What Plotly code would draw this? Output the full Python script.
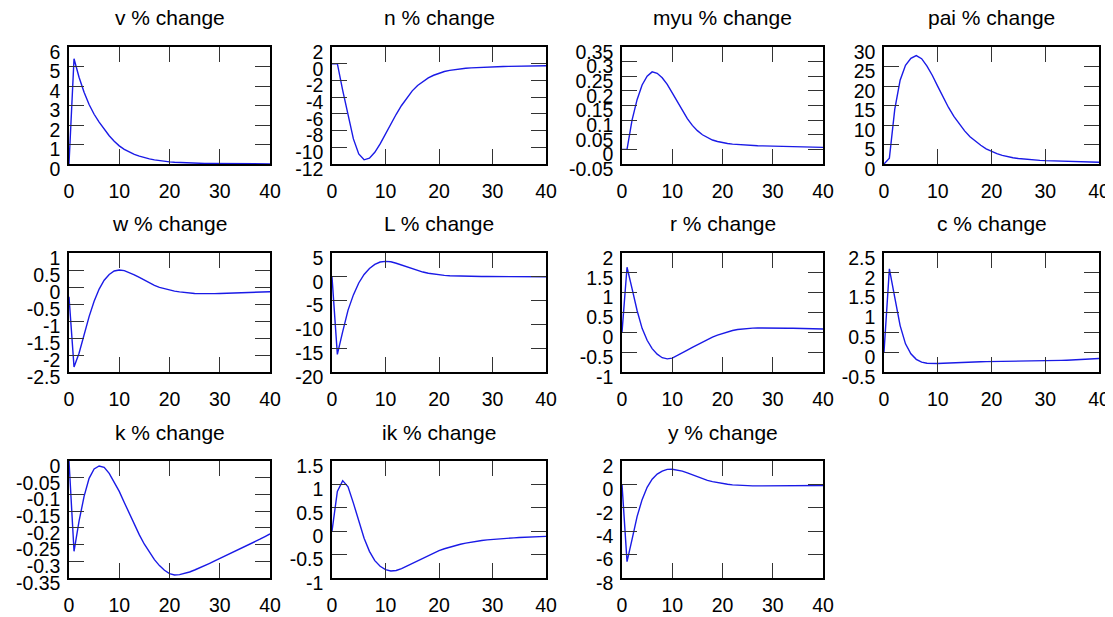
import plotly.graph_objects as go

periods = list(range(41))

v_vals = [0, 5.4, 4.45, 3.68, 3.05, 2.55, 2.15, 1.78, 1.45, 1.17, 0.93, 0.75, 0.6, 0.49, 0.4, 0.32,
          0.26, 0.21, 0.17, 0.14, 0.11, 0.09, 0.075, 0.06, 0.05, 0.04, 0.033, 0.027, 0.022, 0.018,
          0.015, 0.013, 0.011, 0.01, 0.009, 0.008, 0.008, 0.007, 0.007, 0.006, 0.006]
n_vals = [0, 0, -3.2, -6.2, -9.0, -10.8, -11.5, -11.3, -10.6, -9.6, -8.4, -7.2, -6.05, -5.0, -4.05,
          -3.25, -2.6, -2.1, -1.7, -1.38, -1.12, -0.93, -0.79, -0.69, -0.61, -0.55, -0.5, -0.46,
          -0.43, -0.4, -0.38, -0.36, -0.34, -0.32, -0.31, -0.3, -0.29, -0.28, -0.27, -0.26, -0.25]
myu_vals = [0, 0, 0.1, 0.17, 0.22, 0.25, 0.265, 0.26, 0.245, 0.222, 0.193, 0.163, 0.133, 0.105,
            0.082, 0.064, 0.05, 0.04, 0.032, 0.027, 0.023, 0.02, 0.018, 0.0165, 0.015, 0.014,
            0.013, 0.0125, 0.012, 0.0115, 0.011, 0.0105, 0.01, 0.0097, 0.0094, 0.009, 0.0087,
            0.0082, 0.0078, 0.0074, 0.007]
pai_vals = [0, 1.5, 14, 21.5, 25.3, 27.1, 27.8, 27.0, 25.1, 22.7, 19.9, 17.0, 14.5, 12.2, 10.2, 8.5,
            7.0, 5.8, 4.8, 3.9, 3.2, 2.65, 2.2, 1.85, 1.6, 1.4, 1.25, 1.13, 1.03, 0.94, 0.86, 0.8,
            0.74, 0.69, 0.64, 0.6, 0.57, 0.54, 0.51, 0.48, 0.45]
w_vals = [-0.29, -2.35, -1.95, -1.4, -0.87, -0.42, -0.06, 0.2, 0.37, 0.47, 0.5, 0.48, 0.43, 0.36,
          0.28, 0.2, 0.12, 0.05, -0.01, -0.05, -0.09, -0.12, -0.145, -0.165, -0.18, -0.19, -0.195,
          -0.2, -0.2, -0.195, -0.19, -0.185, -0.18, -0.177, -0.174, -0.17, -0.165, -0.16, -0.155,
          -0.15, -0.14]
L_vals = [0, -16.3, -11.5, -7, -3.8, -1.3, 0.5, 1.75, 2.6, 3.1, 3.25, 3.15, 2.85, 2.45, 2.05, 1.65,
          1.3, 1.0, 0.75, 0.55, 0.4, 0.3, 0.22, 0.17, 0.13, 0.1, 0.09, 0.08, 0.07, 0.06, 0.05,
          0.045, 0.04, 0.035, 0.03, 0.025, 0.02, 0.015, 0.01, 0.005, 0]
r_vals = [0, 1.64, 1.1, 0.55, 0.1, -0.2, -0.41, -0.55, -0.64, -0.67, -0.65, -0.59, -0.52, -0.45,
          -0.38, -0.31, -0.24, -0.18, -0.12, -0.07, -0.03, 0.01, 0.045, 0.07, 0.087, 0.098, 0.105,
          0.11, 0.112, 0.112, 0.11, 0.108, 0.106, 0.104, 0.102, 0.1, 0.097, 0.094, 0.091, 0.088,
          0.085]
c_vals = [0, 2.1, 1.38, 0.67, 0.21, -0.04, -0.18, -0.25, -0.28, -0.29, -0.285, -0.278, -0.27,
          -0.262, -0.255, -0.249, -0.245, -0.242, -0.24, -0.239, -0.238, -0.237, -0.236, -0.235,
          -0.234, -0.233, -0.231, -0.229, -0.226, -0.223, -0.22, -0.216, -0.212, -0.207, -0.202,
          -0.196, -0.19, -0.183, -0.176, -0.168, -0.16]
k_vals = [0, -0.27, -0.18, -0.106, -0.052, -0.024, -0.015, -0.019, -0.037, -0.062, -0.091,
          -0.124, -0.158, -0.191, -0.221, -0.249, -0.273, -0.295, -0.313, -0.327, -0.337,
          -0.341, -0.34, -0.337, -0.332, -0.326, -0.32, -0.313, -0.306, -0.299, -0.292, -0.285,
          -0.277, -0.27, -0.262, -0.255, -0.248, -0.241, -0.234, -0.226, -0.218]
ik_vals = [0, 0.85, 1.08, 0.95, 0.6, 0.2, -0.15, -0.43, -0.63, -0.75, -0.82, -0.85, -0.84, -0.8,
           -0.745, -0.685, -0.625, -0.565, -0.51, -0.46, -0.415, -0.375, -0.34, -0.31, -0.28,
           -0.255, -0.233, -0.214, -0.198, -0.185, -0.174, -0.165, -0.157, -0.149, -0.142, -0.136,
           -0.13, -0.125, -0.12, -0.115, -0.11]
y_vals = [0, -6.6, -4.7, -2.75, -1.3, -0.25, 0.45, 0.88, 1.14, 1.28, 1.3, 1.25, 1.14, 0.98, 0.81,
          0.64, 0.49, 0.35, 0.24, 0.15, 0.07, 0.01, -0.04, -0.075, -0.1, -0.115, -0.125, -0.13,
          -0.13, -0.13, -0.128, -0.125, -0.122, -0.118, -0.115, -0.11, -0.106, -0.102, -0.098,
          -0.094, -0.09]

names = ["v", "n", "myu", "pai", "w", "L", "r", "c", "k", "ik", "y"]
series = [v_vals, n_vals, myu_vals, pai_vals, w_vals, L_vals, r_vals, c_vals, k_vals, ik_vals, y_vals]

x_ticks = [0, 10, 20, 30, 40]
y_ticks = [
    [0, 1, 2, 3, 4, 5, 6],
    [-12, -10, -8, -6, -4, -2, 0, 2],
    [-0.05, 0, 0.05, 0.1, 0.15, 0.2, 0.25, 0.3, 0.35],
    [0, 5, 10, 15, 20, 25, 30],
    [-2.5, -2, -1.5, -1, -0.5, 0, 0.5, 1],
    [-20, -15, -10, -5, 0, 5],
    [-1, -0.5, 0, 0.5, 1, 1.5, 2],
    [-0.5, 0, 0.5, 1, 1.5, 2, 2.5],
    [-0.35, -0.3, -0.25, -0.2, -0.15, -0.1, -0.05, 0],
    [-1, -0.5, 0, 0.5, 1, 1.5],
    [-8, -6, -4, -2, 0, 2],
]

W, H = 1113, 617
OFF = 8  # page body margin
col_px = [(69, 270), (332, 546), (622, 823), (884, 1099)]
row_px = [(47, 164), (253, 372), (461, 578)]
title_y_px = [17, 224, 432]

FONT = "Liberation Sans, Arial, sans-serif"


def fmt(v):
    return "%g" % v


fig = go.Figure()
annotations = []
for i, (name, vals) in enumerate(zip(names, series)):
    r, c = divmod(i, 4)
    ax = "" if i == 0 else str(i + 1)
    x0, x1 = [p - OFF for p in col_px[c]]
    y0, y1 = [p - OFF for p in row_px[r]]
    fig.add_trace(go.Scatter(x=periods, y=vals, mode="lines",
                             line=dict(color="#1a1ae6", width=1.4),
                             xaxis="x" + ax, yaxis="y" + ax, showlegend=False,
                             hoverinfo="skip"))
    yt = y_ticks[i]
    common = dict(showgrid=False, zeroline=False, showline=True, linecolor="black",
                  linewidth=1.5, mirror="ticks", ticks="inside", ticklen=15,
                  tickwidth=1.2, tickcolor="#333333", automargin=False,
                  tickfont=dict(family=FONT, size=19.5, color="black"))
    fig.layout["xaxis" + ax] = dict(domain=[x0 / W, x1 / W], range=[0, 40],
                                    tickvals=x_ticks, ticktext=[str(t) for t in x_ticks],
                                    anchor="y" + ax, ticklabelstandoff=9, **common)
    fig.layout["yaxis" + ax] = dict(domain=[1 - y1 / H, 1 - y0 / H], range=[yt[0], yt[-1]],
                                    tickvals=yt, ticktext=[fmt(t) for t in yt],
                                    anchor="x" + ax, ticklabelshift=5,
                                    ticklabelstandoff=3, **common)
    annotations.append(dict(text=name + " % change", x=(x0 + x1) / 2 / W,
                            y=1 - (title_y_px[r] - OFF) / H, xref="paper", yref="paper",
                            xanchor="center", yanchor="middle", showarrow=False,
                            font=dict(family=FONT, size=21, color="black")))

fig.update_layout(template="none", width=W, height=H,
                  margin=dict(l=0, r=0, t=0, b=0, autoexpand=False),
                  paper_bgcolor="white", plot_bgcolor="white",
                  annotations=annotations)
fig.write_html("out.html")
